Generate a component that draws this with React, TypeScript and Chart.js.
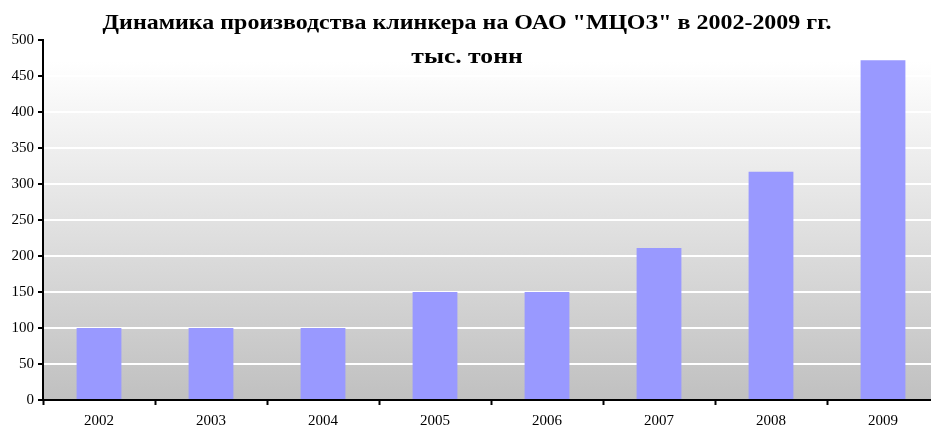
import React, { useEffect, useRef } from "react";
import { Chart, registerables } from "chart.js";

Chart.register(...registerables);

const titleLine1 = 'Динамика производства клинкера на ОАО "МЦОЗ" в 2002-2009 гг.';
const titleLine2 = "тыс. тонн";
const years = ["2002", "2003", "2004", "2005", "2006", "2007", "2008", "2009"];
const production = [100, 100, 100, 150, 150, 211, 317, 472];
const yTicks = [0, 50, 100, 150, 200, 250, 300, 350, 400, 450, 500];

const FONT = '"Liberation Serif", "Times New Roman", serif';

const bgPlugin = {
  id: "bgGradient",
  beforeDraw(chart: any) {
    const { ctx, chartArea } = chart;
    if (!chartArea) return;
    const g = ctx.createLinearGradient(0, chartArea.top, 0, chartArea.bottom);
    g.addColorStop(0, "#ffffff");
    g.addColorStop(0.06, "#ffffff");
    g.addColorStop(1, "#c0c0c0");
    ctx.save();
    ctx.fillStyle = g;
    ctx.fillRect(chartArea.left, chartArea.top, chartArea.right - chartArea.left, chartArea.bottom - chartArea.top);
    ctx.restore();
  },
};

const titlePlugin = {
  id: "titleText",
  afterDraw(chart: any) {
    const { ctx } = chart;
    ctx.save();
    ctx.fillStyle = "#000";
    ctx.textAlign = "center";
    ctx.textBaseline = "alphabetic";
    ctx.font = `bold 22px ${FONT}`;
    ctx.save();
    ctx.translate(467, 29);
    ctx.scale(1.09, 1);
    ctx.fillText(titleLine1, 0, 0);
    ctx.restore();
    ctx.font = `bold 21px ${FONT}`;
    ctx.save();
    ctx.translate(467, 63);
    ctx.scale(1.22, 1);
    ctx.fillText(titleLine2, 0, 0);
    ctx.restore();
    ctx.restore();
  },
};

export default function App() {
  const ref = useRef<HTMLCanvasElement>(null);
  useEffect(() => {
    document.body.style.margin = "0";
    document.body.style.overflow = "hidden";
    const chart = new Chart(ref.current!, {
      type: "bar",
      data: {
        labels: years,
        datasets: [
          {
            data: production,
            backgroundColor: "#9999ff",
            borderWidth: 0,
            barPercentage: 0.4,
            categoryPercentage: 1,
          },
        ],
      },
      options: {
        animation: false,
        responsive: false,
        maintainAspectRatio: false,
        layout: { padding: { top: 40, right: 1, left: 0, bottom: 0 } },
        plugins: { legend: { display: false }, title: { display: false }, tooltip: { enabled: false } },
        scales: {
          x: {
            offset: true,
            grid: { offset: true, drawOnChartArea: false, drawTicks: true, tickLength: 5, tickColor: "#000", tickWidth: 2 },
            border: { color: "#000", width: 2 },
            ticks: { color: "#000", font: { family: FONT, size: 15 }, padding: 7, maxRotation: 0 },
            afterFit(scale: any) {
              scale.height = 30;
            },
          },
          y: {
            min: 0,
            max: 500,
            afterBuildTicks(scale: any) {
              scale.ticks = yTicks.map((v) => ({ value: v }));
            },
            grid: { color: "#ffffff", lineWidth: 2, tickLength: 5, tickColor: "#000", tickWidth: 2 },
            border: { color: "#000", width: 2 },
            ticks: { color: "#000", font: { family: FONT, size: 15 }, padding: 4 },
            afterFit(scale: any) {
              scale.width = 43;
            },
          },
        },
      },
      plugins: [bgPlugin, titlePlugin],
    });
    return () => chart.destroy();
  }, []);
  return (
    <div style={{ width: 931, height: 430, overflow: "hidden", background: "#fff" }}>
      <canvas ref={ref} width={940} height={430} style={{ display: "block" }} />
    </div>
  );
}
